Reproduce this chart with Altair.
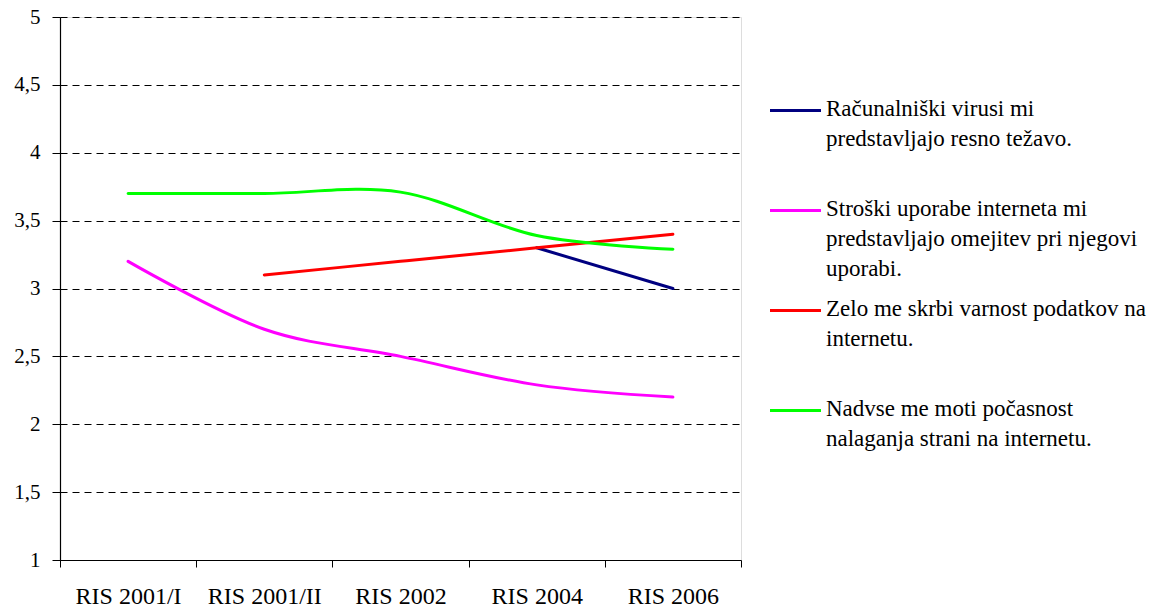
import altair as alt
import pandas as pd

categories = ["RIS 2001/I", "RIS 2001/II", "RIS 2002", "RIS 2004", "RIS 2006"]

series_names = [
    "Računalniški virusi mi predstavljajo resno težavo.",
    "Stroški uporabe interneta mi predstavljajo omejitev pri njegovi uporabi.",
    "Zelo me skrbi varnost podatkov na internetu.",
    "Nadvse me moti počasnost nalaganja strani na internetu.",
]
legend_labels = [
    "Računalniški virusi mi\npredstavljajo resno težavo.",
    "Stroški uporabe interneta mi\npredstavljajo omejitev pri njegovi\nuporabi.",
    "Zelo me skrbi varnost podatkov na\ninternetu.",
    "Nadvse me moti počasnost\nnalaganja strani na internetu.",
]
colors = ["#000080", "#FF00FF", "#FF0000", "#00FF00"]

# values per category (None = no value)
virusi = [None, None, None, 3.30, 3.00]
stroski = [3.20, 2.70, 2.50, 2.29, 2.20]
varnost = [None, 3.10, 3.20, 3.30, 3.40]
pocasnost = [3.70, 3.70, 3.71, 3.39, 3.29]

y_ticks = [1, 1.5, 2, 2.5, 3, 3.5, 4, 4.5, 5]

rows = []
for name, vals in zip(series_names, [virusi, stroski, varnost, pocasnost]):
    for c, v in zip(categories, vals):
        if v is not None:
            rows.append({"series": name, "cat": c, "value": v})
df = pd.DataFrame(rows)

legend_df = pd.DataFrame({
    "series": series_names,
    "label": legend_labels,
    "row": list(range(len(series_names))),
})

FONT = "Liberation Serif, Times New Roman, serif"
W, H = 681, 543

color_scale = alt.Scale(domain=series_names, range=colors)

lines = alt.Chart(df).mark_line(
    interpolate="cardinal", strokeWidth=3, strokeCap="round"
).encode(
    x=alt.X("cat:N", sort=categories, title=None,
            scale=alt.Scale(type="band", domain=categories, paddingInner=0, paddingOuter=0),
            axis=alt.Axis(labelAngle=0, labelFont=FONT, labelFontSize=24, labelColor="black",
                          labelPadding=17, tickBand="extent", tickSize=7, tickColor="black",
                          domainColor="black", domainWidth=1.2, grid=False)),
    y=alt.Y("value:Q", title=None,
            scale=alt.Scale(domain=[1, 5], nice=False, zero=False),
            axis=alt.Axis(values=y_ticks, labelExpr="replace(toString(datum.value), '.', ',')",
                          labelFont=FONT, labelFontSize=21, labelColor="black",
                          labelPadding=12, tickSize=8, tickColor="black",
                          domainColor="black", domainWidth=1.2,
                          grid=True, gridColor="black", gridDash=[7, 5], gridWidth=1)),
    color=alt.Color("series:N", scale=color_scale, legend=None),
    order=alt.value(0),
)

legend_y = alt.Y("row:Q", scale=alt.Scale(domain=[-0.935, 4.495], reverse=True, nice=False, zero=False),
                 title=None,
                 axis=alt.Axis(orient="right", labels=False, ticks=False, grid=False,
                               domainColor="black", domainWidth=1.2))

legend_rules = alt.Chart(legend_df).mark_rule(strokeWidth=3).encode(
    x=alt.value(710), x2=alt.value(761),
    y=legend_y,
    color=alt.Color("series:N", scale=color_scale, legend=None),
)

legend_text = alt.Chart(legend_df).mark_text(
    align="left", baseline="alphabetic", dy=5, font=FONT, fontSize=23,
    lineBreak="\n", lineHeight=30, color="black"
).encode(
    x=alt.value(766),
    y=alt.Y("row:Q", scale=alt.Scale(domain=[-0.935, 4.495], reverse=True, nice=False, zero=False), axis=None),
    text="label:N",
)

legend = alt.layer(legend_rules, legend_text)

chart = alt.layer(lines, legend).resolve_scale(y="independent").properties(
    width=W, height=H,
    autosize=alt.AutoSizeParams(type="none"),
    padding={"left": 52, "top": 9, "right": 424, "bottom": 50},
).configure_view(stroke=None).configure(background="white", font=FONT)

chart.save("out.html", embed_options={"renderer": "svg", "actions": False})
